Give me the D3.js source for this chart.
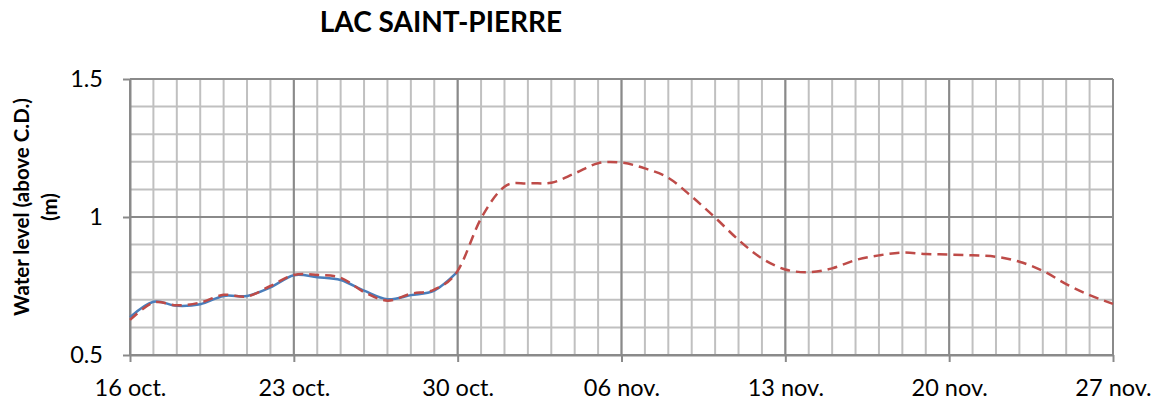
<!DOCTYPE html>
<meta charset="utf-8">
<script src="https://d3js.org/d3.v7.min.js"></script>
<style>
  body { margin: 0; background: #fff; }
  text { font-family: Lato, "Open Sans", sans-serif; }
</style>
<div id="my_dataviz"></div>
<script>
// data: daily water levels, first value is 16 oct.
var startDay = "2013-10-16";
var endDay = "2013-11-27";
var observed = [0.637, 0.693, 0.678, 0.684, 0.714, 0.714, 0.745, 0.789, 0.782, 0.772,
                0.733, 0.702, 0.717, 0.733, 0.802];
var forecast = [0.627, 0.690, 0.680, 0.690, 0.718, 0.712, 0.750, 0.790, 0.790, 0.780,
                0.728, 0.697, 0.722, 0.737, 0.805, 0.995, 1.110, 1.122, 1.124, 1.158,
                1.195, 1.197, 1.176, 1.142, 1.074, 0.998, 0.917, 0.850, 0.810, 0.800,
                0.814, 0.844, 0.861, 0.871, 0.866, 0.864, 0.861, 0.856, 0.838, 0.805,
                0.757, 0.717, 0.685];
var yTicks = [0.5, 1, 1.5];
var monthNames = ["janv.", "févr.", "mars", "avr.", "mai", "juin", "juil.", "août", "sept.", "oct.", "nov.", "déc."];

var margin = {top: 79, right: 42, bottom: 49, left: 130},
    width = 1155 - margin.left - margin.right,
    height = 404 - margin.top - margin.bottom;

var svg = d3.select("#my_dataviz")
  .append("svg")
  .attr("width", 1155)
  .attr("height", 404);

var g = svg.append("g")
  .attr("transform", "translate(" + margin.left + "," + margin.top + ")");

var t0 = new Date(startDay + "T00:00:00Z"),
    t1 = new Date(endDay + "T00:00:00Z");
var dayOf = i => d3.utcDay.offset(t0, i);

var x = d3.scaleUtc().domain([t0, t1]).range([0, width]);
var y = d3.scaleLinear().domain([0.5, 1.5]).range([height, 0]);

var allDays = d3.utcDay.range(t0, d3.utcDay.offset(t1, 1));
var weekDays = allDays.filter((d, i) => i % 7 === 0);

// minor grid
g.append("g").selectAll("line")
  .data(allDays)
  .join("line")
  .attr("x1", d => x(d)).attr("x2", d => x(d))
  .attr("y1", 0).attr("y2", height)
  .attr("stroke", "#c0c0c0").attr("stroke-width", 2);

g.append("g").selectAll("line")
  .data(d3.range(5, 16).map(v => v / 10))
  .join("line")
  .attr("x1", 0).attr("x2", width)
  .attr("y1", d => y(d)).attr("y2", d => y(d))
  .attr("stroke", "#c0c0c0").attr("stroke-width", 2);

// major grid
g.append("g").selectAll("line")
  .data(weekDays)
  .join("line")
  .attr("x1", d => x(d)).attr("x2", d => x(d))
  .attr("y1", 0).attr("y2", height)
  .attr("stroke", "#8a8a8a").attr("stroke-width", 2);

g.append("g").selectAll("line")
  .data(yTicks)
  .join("line")
  .attr("x1", 0).attr("x2", width)
  .attr("y1", d => y(d)).attr("y2", d => y(d))
  .attr("stroke", "#8a8a8a").attr("stroke-width", 2);

// axes
var fmt = d => d3.utcFormat("%d")(d) + " " + monthNames[d.getUTCMonth()];

var xAxis = g.append("g")
  .attr("transform", "translate(0," + height + ")")
  .call(d3.axisBottom(x).tickValues(weekDays).tickFormat(fmt).tickSize(7).tickSizeOuter(0).tickPadding(17));
xAxis.select(".domain").attr("stroke", "#8a8a8a").attr("stroke-width", 2);
xAxis.selectAll(".tick line").attr("stroke", "#8a8a8a").attr("stroke-width", 2);
xAxis.selectAll("text").attr("font-size", 23.5).attr("fill", "#000")
  .style("font-family", "Lato, sans-serif");

var yAxis = g.append("g")
  .call(d3.axisLeft(y).tickValues(yTicks).tickFormat(d3.format("")).tickSize(7).tickSizeOuter(0).tickPadding(20));
yAxis.select(".domain").attr("stroke", "#8a8a8a").attr("stroke-width", 2);
yAxis.selectAll(".tick line").attr("stroke", "#8a8a8a").attr("stroke-width", 2);
yAxis.selectAll("text").attr("font-size", 23.5).attr("fill", "#000")
  .style("font-family", "Lato, sans-serif");

// lines
var line = d3.line()
  .x((d, i) => x(dayOf(i)))
  .y(d => y(d))
  .curve(d3.curveCardinal);

g.append("path")
  .datum(observed)
  .attr("d", line)
  .attr("fill", "none")
  .attr("stroke", "#4a7ebb")
  .attr("stroke-width", 2.5);

g.append("path")
  .datum(forecast)
  .attr("d", line)
  .attr("fill", "none")
  .attr("stroke", "#be4b48")
  .attr("stroke-width", 2.5)
  .attr("stroke-dasharray", "10,6");

// titles
svg.append("text")
  .attr("x", 441).attr("y", 32)
  .attr("text-anchor", "middle")
  .attr("font-size", 28).attr("font-weight", "bold")
  .text("LAC SAINT-PIERRE");

var yt = svg.append("text")
  .attr("transform", "translate(29,207) rotate(-90)")
  .attr("text-anchor", "middle")
  .attr("font-size", 20.5).attr("font-weight", "bold");
yt.append("tspan").attr("x", 0).attr("y", 0).text("Water level (above C.D.)");
yt.append("tspan").attr("x", 0).attr("y", 28).text("(m)");
</script>
